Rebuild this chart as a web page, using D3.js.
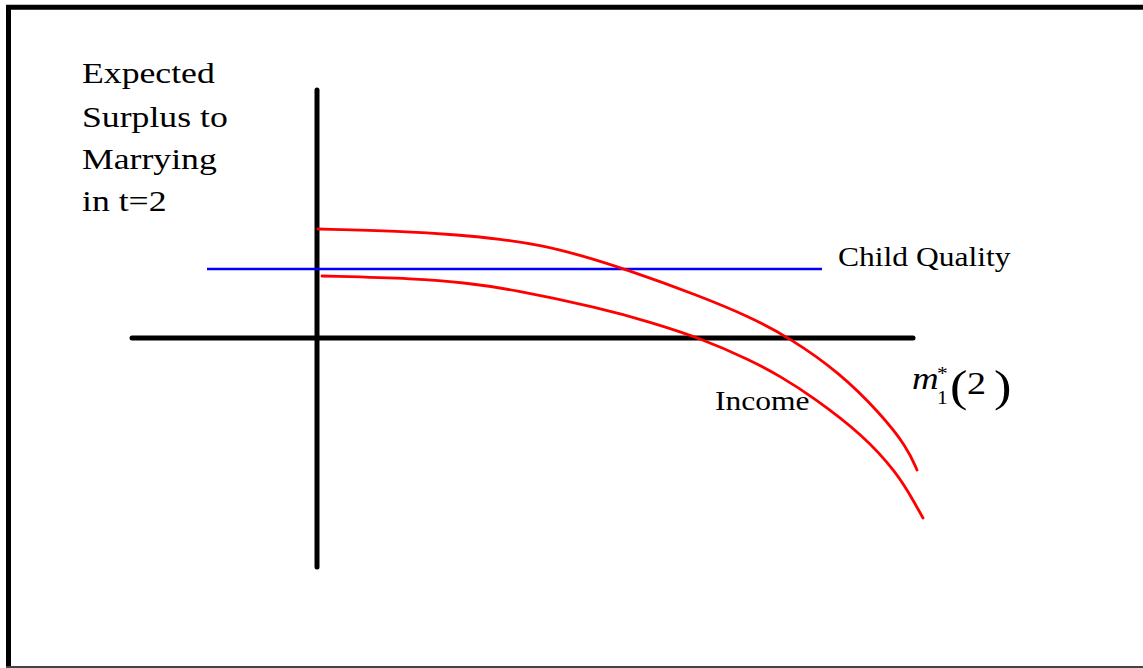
<!DOCTYPE html>
<html>
<head>
<meta charset="utf-8">
<script src="https://cdn.jsdelivr.net/npm/d3@7"></script>
<style>
html,body{margin:0;padding:0;background:#fff;}
svg{display:block;}
</style>
</head>
<body>
<svg id="chart" width="1143" height="668"></svg>
<script>
// ---- data (arbitrary model units; origin at the axes' crossing) ----
const upperX = [0.01, 0.83, 1.43, 1.83, 2.23, 2.63, 3.08, 3.83, 4.33, 4.73, 5.23, 5.63, 5.90, 6.00];
const upperY = [1.09, 1.07, 1.03, 0.99, 0.93, 0.83, 0.69, 0.42, 0.21, 0.00, -0.35, -0.75, -1.09, -1.32];
const lowerX = [0.05, 1.00, 1.50, 1.93, 2.83, 3.33, 3.83, 4.33, 4.63, 4.96, 5.46, 5.80, 5.96, 6.06];
const lowerY = [0.62, 0.595, 0.55, 0.49, 0.30, 0.16, 0.00, -0.22, -0.38, -0.59, -0.97, -1.35, -1.62, -1.80];
const childQualityX = [-1.10, 5.05];
const childQualityY = [0.69, 0.69];
const xAxisExtent = [-1.85, 5.96];
const yAxisExtent = [-2.29, 2.48];
const yLabelLines = ["Expected", "Surplus to", "Marrying", "in t=2"];
const childLabel = "Child Quality";
const incomeLabel = "Income";

const svg = d3.select("#chart");
const x = d3.scaleLinear().domain([0, 6]).range([317, 917]);
const y = d3.scaleLinear().domain([0, 1]).range([338, 238]);

// frame
svg.append("line").attr("x1", 8.5).attr("y1", 5).attr("x2", 8.5).attr("y2", 668)
  .attr("stroke", "#000").attr("stroke-width", 5);
svg.append("line").attr("x1", 6).attr("y1", 7.3).attr("x2", 1143).attr("y2", 7.3)
  .attr("stroke", "#000").attr("stroke-width", 5);
svg.append("line").attr("x1", 6).attr("y1", 667).attr("x2", 1143).attr("y2", 667)
  .attr("stroke", "#444").attr("stroke-width", 2);

// axes
svg.append("line")
  .attr("x1", x(0)).attr("x2", x(0))
  .attr("y1", y(yAxisExtent[1])).attr("y2", y(yAxisExtent[0]))
  .attr("stroke", "#000").attr("stroke-width", 5).attr("stroke-linecap", "round");
svg.append("line")
  .attr("x1", x(xAxisExtent[0])).attr("x2", x(xAxisExtent[1]))
  .attr("y1", y(0)).attr("y2", y(0))
  .attr("stroke", "#000").attr("stroke-width", 5).attr("stroke-linecap", "round");

// child quality line
svg.append("line")
  .attr("x1", x(childQualityX[0])).attr("x2", x(childQualityX[1]))
  .attr("y1", y(childQualityY[0])).attr("y2", y(childQualityY[1]))
  .attr("stroke", "#0000ff").attr("stroke-width", 2.5);

// income curves
const line = d3.line().x(d => x(d[0])).y(d => y(d[1])).curve(d3.curveBasis);
const upper = upperX.map((v, i) => [v, upperY[i]]);
const lower = lowerX.map((v, i) => [v, lowerY[i]]);
[upper, lower].forEach(data => {
  svg.append("path").attr("d", line(data))
    .attr("fill", "none").attr("stroke", "#ff0000").attr("stroke-width", 2.8)
    .attr("stroke-linecap", "round");
});

// text helper: serif, horizontally stretched like the reference
const SX = 1.19;
function label(txt, px, py, size, opts = {}) {
  return svg.append("text")
    .attr("transform", `translate(${px},${py}) scale(${SX},1)`)
    .attr("font-family", "'Liberation Serif', 'Times New Roman', serif")
    .attr("font-size", size)
    .attr("font-style", opts.italic ? "italic" : "normal")
    .attr("fill", "#000")
    .text(txt);
}

const lineBase = [83, 126.5, 169, 211];
yLabelLines.forEach((t, i) => label(t, 82, lineBase[i], 30));

label(childLabel, 838, 266, 26.5);
label(incomeLabel, 715, 410, 26.5);

// m_1^*(2)
label("m", 912, 389, 31, {italic: true});
label("*", 937, 380, 18);
label("1", 937, 404, 18);
label("(", 950, 401, 44);
label("2", 967, 394, 32);
label(")", 994, 401, 44);
</script>
</body>
</html>
